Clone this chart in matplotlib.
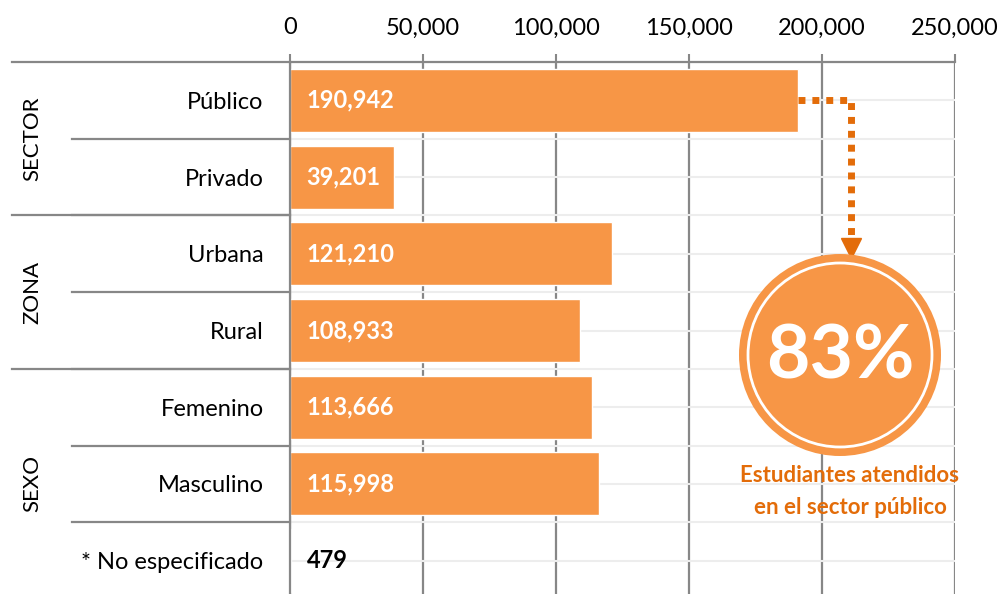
import numpy as np
import matplotlib
matplotlib.use("Agg")
import matplotlib.pyplot as plt
from matplotlib.patches import Circle

plt.rcParams['font.family'] = ['Lato', 'DejaVu Sans']

# data
categories = ['Público', 'Privado', 'Urbana', 'Rural', 'Femenino', 'Masculino', '* No especificado']
values = [190942, 39201, 121210, 108933, 113666, 115998, 479]
groups = ['SECTOR', 'ZONA', 'SEXO']
group_rows = [(0, 1), (2, 3), (4, 6)]   # first and last row of each group
x_ticks = [0, 50000, 100000, 150000, 200000, 250000]

bar_color = '#F79646'
accent = '#E36C09'
axis_gray = '#878787'
light_gray = '#EDEDED'

W, H = 1002, 594
fig = plt.figure(figsize=(W / 100, H / 100), dpi=100)
# plot area in pixels: x 290..955, y 62..599 (bottom runs past the picture)
ax = fig.add_axes([290 / W, 1 - 599 / H, 665 / W, 537 / H])

y = np.arange(len(categories))
ax.barh(y, values, height=0.82, color=bar_color, edgecolor='white', linewidth=1, zorder=3)

ax.set_xlim(x_ticks[0], x_ticks[-1])
ax.set_ylim(len(categories) - 0.5, -0.5)

# light horizontal gridlines at row centres and row boundaries
for k in np.arange(-0.5, len(categories), 0.5):
    ax.axhline(k, color=light_gray, lw=1.5, zorder=1)

# axis on top
ax.xaxis.tick_top()
ax.set_xticks(x_ticks)
ax.set_xticklabels(['{:,}'.format(t) for t in x_ticks])
ax.tick_params(axis='x', length=6, width=1.5, color=axis_gray, pad=11, labelsize=17)
ax.grid(axis='x', color=axis_gray, lw=1.6, zorder=2)
ax.set_axisbelow(True)

ax.set_yticks(y)
ax.set_yticklabels(categories)
ax.tick_params(axis='y', length=0, pad=19, labelsize=17)

for s in ['right', 'bottom']:
    ax.spines[s].set_visible(False)
for s in ['top', 'left']:
    ax.spines[s].set_color(axis_gray)
    ax.spines[s].set_linewidth(1.6)
    ax.spines[s].set_zorder(4)

# value labels at the start of each bar
for yi, v in zip(y, values):
    col = 'white' if v > 10000 else 'black'
    ax.annotate('{:,}'.format(v), xy=(0, yi), xytext=(12, 0), textcoords='offset points',
                ha='left', va='center', color=col, fontsize=17, fontweight='bold', zorder=5)

# category / group separator lines left of the plot
long_x = (12 - 290) / 665.0
short_x = (72 - 290) / 665.0
tr = ax.get_yaxis_transform()
for first, last in group_rows:
    ax.plot([long_x, 0], [first - 0.5, first - 0.5], transform=tr, color=axis_gray,
            lw=1.6, clip_on=False)
    for r in range(first, last + 1):
        ax.plot([short_x, 0], [r + 0.5, r + 0.5], transform=tr, color=axis_gray,
                lw=1.6, clip_on=False)

# group names, rotated
for name, (first, last) in zip(groups, group_rows):
    ax.text((32 - 290) / 665.0, (first + last) / 2.0, name, transform=tr, rotation=90,
            ha='center', va='center', fontsize=16)

# dotted connector from the "Público" bar to the circle
pub = values[0]
turn_x = 211000
ax.plot([pub, turn_x, turn_x], [0, 0, 1.78], color=accent, lw=5,
        linestyle=(0, (1, 1)), solid_capstyle='butt', dash_capstyle='butt',
        clip_on=False, zorder=6)
ax.plot([turn_x], [1.92], marker='v', markersize=15, color=accent, zorder=6, clip_on=False)

# circle with the share of the public sector, drawn on a pixel overlay
ov = fig.add_axes([0, 0, 1, 1], zorder=5)
ov.set_xlim(0, W)
ov.set_ylim(H, 0)
ov.axis('off')
ov.patch.set_alpha(0)

share = values[0] / float(values[0] + values[1])
cx, cy = 840, 355
ov.add_patch(Circle((cx, cy), 101, color=bar_color, lw=0))
ov.add_patch(Circle((cx, cy), 92, fill=False, edgecolor='white', lw=2))
ov.text(cx, cy + 2, '{:.0f}%'.format(share * 100), ha='center', va='center',
        color='white', fontsize=54, fontweight='bold')
ov.text(850, 475, 'Estudiantes atendidos', ha='center', va='center',
        color=accent, fontsize=16, fontweight='bold')
ov.text(850, 507, 'en el sector público', ha='center', va='center',
        color=accent, fontsize=16, fontweight='bold')

fig.savefig('out.png', dpi=100)
